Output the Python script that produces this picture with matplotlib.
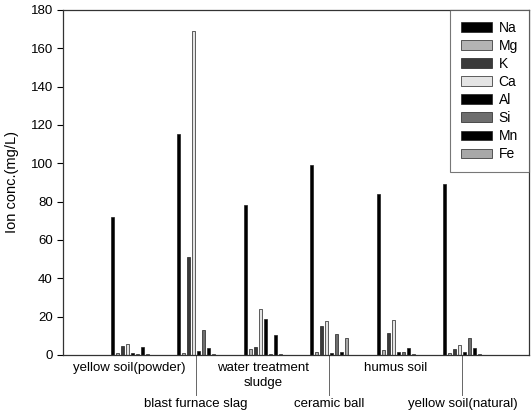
import matplotlib
matplotlib.use('Agg')
import matplotlib.pyplot as plt
import numpy as np

plt.rcParams['font.family'] = ['Liberation Sans', 'DejaVu Sans']

samples = ['yellow soil(powder)', 'blast furnace slag', 'water treatment\nsludge',
           'ceramic ball', 'humus soil', 'yellow soil(natural)']
ions = ['Na', 'Mg', 'K', 'Ca', 'Al', 'Si', 'Mn', 'Fe']

# ion concentration per sample (mg/L)
Na = [72, 115, 78, 99, 84, 89]
Mg = [1.2, 1.2, 3.3, 1.7, 2.3, 1.2]
K = [4.7, 51, 4.3, 14.8, 11.3, 3.1]
Ca = [5.4, 169, 24, 17.4, 18.3, 4.9]
Al = [1.0, 2.0, 18.8, 1.2, 1.3, 1.7]
Si = [0.3, 13, 0.5, 10.8, 1.7, 8.7]
Mn = [4.3, 3.5, 10.4, 1.7, 3.6, 3.6]
Fe = [0.2, 0.5, 0.3, 8.7, 0.5, 0.5]
values = [Na, Mg, K, Ca, Al, Si, Mn, Fe]
colors = ['#000000', '#b4b4b4', '#3a3a3a', '#e4e4e4', '#000000', '#6e6e6e', '#000000', '#a8a8a8']

fig = plt.figure(figsize=(5.31, 4.15), dpi=100)
ax = fig.add_axes([0.119, 0.145, 0.877, 0.831])

x = np.arange(1, len(samples) + 1)
step = 0.075
width = 0.048
for i in range(len(ions)):
    ax.bar(x + (i - 3.5) * step, values[i], width, color=colors[i],
           edgecolor='#202020', linewidth=0.5, label=ions[i])

ax.set_xlim(0, 7)
ax.set_ylim(0, 180)
ax.set_yticks(range(0, 181, 20))
ax.tick_params(axis='y', labelsize=9.5, direction='out', length=4, width=0.8)
ax.set_ylabel('Ion conc.(mg/L)', fontsize=10.5, labelpad=8)

# category labels, staggered in two rows; lower row hangs on a leader line
ax.set_xticks([])
for i, name in enumerate(samples):
    if i % 2 == 0:
        ax.annotate(name, xy=(x[i], 0), xycoords=('data', 'axes fraction'),
                    xytext=(0, -5), textcoords='offset points',
                    ha='center', va='top', fontsize=9.5, linespacing=1.35)
    else:
        ax.plot([x[i], x[i]], [0, -0.116], transform=ax.get_xaxis_transform(),
                color='#666666', linewidth=0.7, clip_on=False)
        ax.annotate(name, xy=(x[i], 0), xycoords=('data', 'axes fraction'),
                    xytext=(0, -31), textcoords='offset points',
                    ha='center', va='top', fontsize=9.5)

for s in ax.spines.values():
    s.set_linewidth(0.9)
    s.set_color('#333333')

leg = ax.legend(loc='upper right', borderaxespad=0, fontsize=10, fancybox=False,
                edgecolor='#555555', handlelength=2.2, handleheight=0.7,
                labelspacing=0.29, borderpad=0.8, handletextpad=0.5)
leg.get_frame().set_linewidth(0.8)

fig.savefig('out.png', dpi=100)
